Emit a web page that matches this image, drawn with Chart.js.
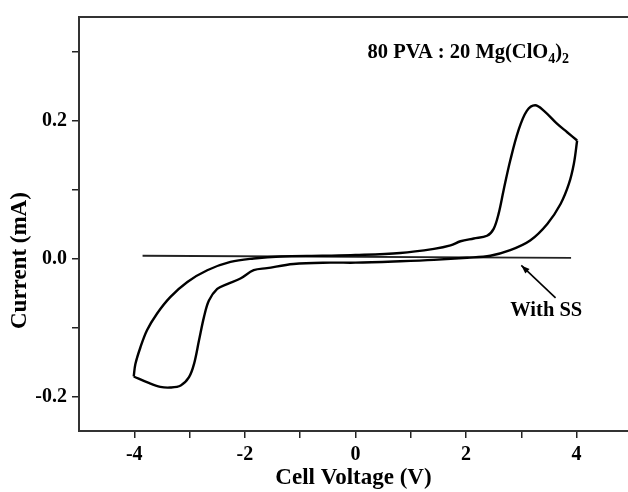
<!DOCTYPE html>
<html>
<head>
<meta charset="utf-8">
<script src="https://cdn.jsdelivr.net/npm/chart.js@4.4.1/dist/chart.umd.min.js"></script>
<style>
  html, body { margin: 0; padding: 0; background: #fff; overflow: hidden; }
  #wrap { width: 628px; height: 492px; }
</style>
</head>
<body>
<div id="wrap"><canvas id="cv"></canvas></div>
<script>
// forward scan: -4 V up the outer branch to the anodic peak and +4 V
const fwdVoltage = [-4.01, -3.98, -3.89, -3.77, -3.59, -3.35, -3.04, -2.68, -2.26, -1.84, -1.36, -0.6, 0, 0.81, 1.42, 1.72, 1.90, 2.14, 2.38, 2.50, 2.59, 2.68, 2.80, 2.95, 3.10, 3.25, 3.41, 3.65, 3.83, 4.01];
const fwdCurrent = [-0.171, -0.153, -0.129, -0.104, -0.080, -0.056, -0.034, -0.017, -0.005, 0.000, 0.003, 0.004, 0.005, 0.008, 0.014, 0.019, 0.025, 0.029, 0.033, 0.043, 0.065, 0.099, 0.142, 0.186, 0.214, 0.222, 0.214, 0.195, 0.183, 0.171];
// reverse scan: +4 V back down to -4 V
const revVoltage = [4.01, 3.95, 3.86, 3.71, 3.47, 3.16, 2.80, 2.44, 2.02, 1.42, 0.81, 0, -0.45, -1.12, -1.60, -1.84, -2.08, -2.32, -2.50, -2.65, -2.74, -2.83, -2.92, -3.01, -3.16, -3.35, -3.53, -3.75, -4.01];
const revCurrent = [0.171, 0.137, 0.108, 0.079, 0.050, 0.026, 0.012, 0.004, 0.001, -0.002, -0.004, -0.006, -0.006, -0.008, -0.014, -0.017, -0.029, -0.037, -0.044, -0.061, -0.085, -0.119, -0.153, -0.172, -0.184, -0.187, -0.186, -0.180, -0.171];
// stainless steel blocking electrodes
const ssVoltage = [-3.85, 3.9];
const ssCurrent = [0.004, 0.001];

const xTicks = [-4, -3, -2, -1, 0, 1, 2, 3, 4];
const xLabels = [-4, -2, 0, 2, 4];
const yTicks = [-0.2, -0.1, 0, 0.1, 0.2, 0.3];
const yLabels = [-0.2, 0, 0.2];

const FONT = "'Liberation Serif', 'Times New Roman', serif";

function pts(xs, ys) {
  return xs.map((x, i) => ({ x: x, y: ys[i] }));
}

const extras = {
  id: 'extras',
  afterDraw(chart) {
    const ctx = chart.ctx;
    const a = chart.chartArea;
    const xs = chart.scales.x, ys = chart.scales.y;
    ctx.save();
    // top frame line
    ctx.strokeStyle = '#333';
    ctx.lineWidth = 2;
    ctx.beginPath();
    ctx.moveTo(a.left, a.top);
    ctx.lineTo(a.right, a.top);
    ctx.stroke();

    ctx.fillStyle = '#000';
    // y title
    ctx.save();
    ctx.translate(20, ys.getPixelForValue(-0.003));
    ctx.rotate(-Math.PI / 2);
    ctx.font = 'bold 23px ' + FONT;
    ctx.textAlign = 'center';
    ctx.textBaseline = 'middle';
    ctx.fillText('Current (mA)', 0, 0);
    ctx.restore();

    // composition label
    ctx.textAlign = 'left';
    ctx.textBaseline = 'alphabetic';
    let tx = xs.getPixelForValue(0.22);
    const ty = ys.getPixelForValue(0.290);
    const big = 'bold 20.5px ' + FONT, small = 'bold 14px ' + FONT;
    const parts = [['80 PVA : 20 Mg(ClO', big, 0], ['4', small, 5], [')', big, 0], ['2', small, 5]];
    parts.forEach(p => {
      ctx.font = p[1];
      ctx.fillText(p[0], tx, ty + p[2]);
      tx += ctx.measureText(p[0]).width;
    });

    // With SS label + arrow
    ctx.font = big;
    ctx.fillText('With SS', xs.getPixelForValue(2.80), ys.getPixelForValue(-0.083));
    const x1 = xs.getPixelForValue(3.62), y1 = ys.getPixelForValue(-0.057);
    const x2 = xs.getPixelForValue(3.00), y2 = ys.getPixelForValue(-0.010);
    ctx.strokeStyle = '#000';
    ctx.lineWidth = 1.6;
    ctx.beginPath();
    ctx.moveTo(x1, y1);
    ctx.lineTo(x2, y2);
    ctx.stroke();
    const ang = Math.atan2(y2 - y1, x2 - x1);
    ctx.beginPath();
    ctx.moveTo(x2, y2);
    ctx.lineTo(x2 - 9 * Math.cos(ang - 0.35), y2 - 9 * Math.sin(ang - 0.35));
    ctx.lineTo(x2 - 9 * Math.cos(ang + 0.35), y2 - 9 * Math.sin(ang + 0.35));
    ctx.closePath();
    ctx.fill();
    ctx.restore();
  }
};

new Chart(document.getElementById('cv'), {
  type: 'scatter',
  data: {
    datasets: [
      { data: pts(fwdVoltage, fwdCurrent), showLine: true, borderColor: '#000', borderWidth: 2.4, pointRadius: 0, tension: 0.35 },
      { data: pts(revVoltage, revCurrent), showLine: true, borderColor: '#000', borderWidth: 2.4, pointRadius: 0, tension: 0.35 },
      { data: pts(ssVoltage, ssCurrent), showLine: true, borderColor: '#222', borderWidth: 1.8, pointRadius: 0, tension: 0 }
    ]
  },
  options: {
    responsive: true,
    maintainAspectRatio: false,
    animation: false,
    layout: { padding: { top: 17, left: 0, right: 0, bottom: 0 } },
    plugins: { legend: { display: false }, tooltip: { enabled: false } },
    scales: {
      x: {
        type: 'linear',
        min: -5,
        max: 4.93,
        afterBuildTicks: s => { s.ticks = xTicks.map(v => ({ value: v })); },
        afterFit: s => { s.height = 61; },
        ticks: {
          autoSkip: false,
          maxRotation: 0,
          padding: 5,
          color: '#000',
          font: { family: FONT, size: 20, weight: 'bold' },
          callback: v => xLabels.includes(v) ? String(v) : ''
        },
        grid: { display: true, drawOnChartArea: false, drawTicks: true, tickLength: 7, color: '#222', lineWidth: 1.5 },
        border: { display: true, color: '#333', width: 2 },
        title: {
          display: true,
          text: 'Cell Voltage (V)',
          color: '#000',
          font: { family: FONT, size: 23, weight: 'bold' },
          padding: { top: 0, bottom: 0 }
        }
      },
      y: {
        min: -0.25,
        max: 0.35,
        afterBuildTicks: s => { s.ticks = yTicks.map(v => ({ value: v })); },
        afterFit: s => { s.width = 79; },
        ticks: {
          autoSkip: false,
          padding: 5,
          color: '#000',
          font: { family: FONT, size: 20, weight: 'bold' },
          callback: v => yLabels.some(l => Math.abs(l - v) < 1e-9) ? v.toFixed(1) : ''
        },
        grid: { display: true, drawOnChartArea: false, drawTicks: true, tickLength: 7, color: '#222', lineWidth: 1.5 },
        border: { display: true, color: '#333', width: 2 }
      }
    }
  },
  plugins: [extras]
});
</script>
</body>
</html>
